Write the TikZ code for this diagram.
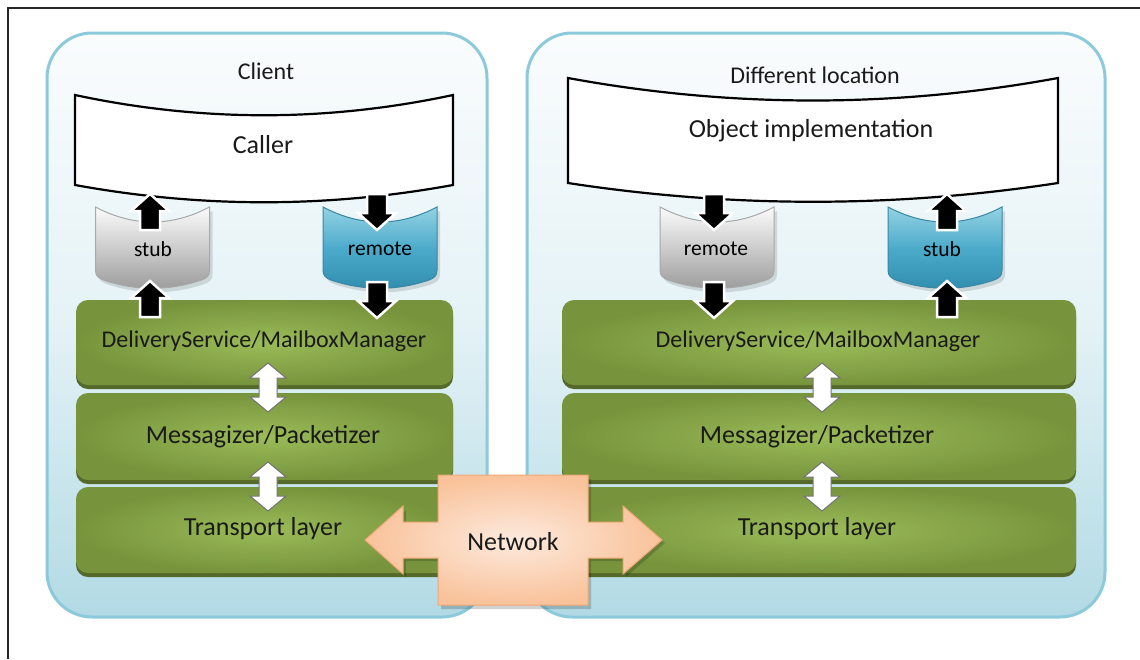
\documentclass[tikz,border=0pt]{standalone}
\usepackage{fontspec}
\setmainfont{Carlito}
\begin{document}
\definecolor{panelTop}{HTML}{FAFCFD}
\definecolor{panelMid}{HTML}{E4F2F6}
\definecolor{panelBot}{HTML}{B2DAE4}
\definecolor{panelLine}{HTML}{8CCADB}
\definecolor{greenIn}{HTML}{9BBB58}
\definecolor{greenOut}{HTML}{77943C}
\definecolor{greenDark}{HTML}{55692A}
\definecolor{blueTop}{HTML}{93D3E3}
\definecolor{blueMid}{HTML}{4BAACA}
\definecolor{blueBot}{HTML}{2F8CAD}
\definecolor{blueLine}{HTML}{3A87A5}
\definecolor{grayTop}{HTML}{FBFBFB}
\definecolor{grayBot}{HTML}{9A9A9A}
\definecolor{grayLine}{HTML}{A8A8A8}
\definecolor{peachIn}{HTML}{FDEADE}
\definecolor{peachOut}{HTML}{F9C29A}
\definecolor{peachLine}{HTML}{EFA877}
\definecolor{txt}{HTML}{1A1A1A}
% a can: concave top, rounded bottom; #1 = centre x, #2 = style
\newcommand\drawcan[2]{%
  \begin{scope}[shift={(#1,207)}]
    \fill[black, opacity=0.12, shift={(3,4)}]
      (-57,0) .. controls (-19,20) and (19,20) .. (57,0) -- (57,63)
      .. controls (57,69) and (54,71) .. (49,73) .. controls (17,84) and (-17,84) .. (-49,73)
      .. controls (-54,71) and (-57,69) .. (-57,63) -- cycle;
    \path[#2]
      (-57,0) .. controls (-19,20) and (19,20) .. (57,0) -- (57,63)
      .. controls (57,69) and (54,71) .. (49,73) .. controls (17,84) and (-17,84) .. (-49,73)
      .. controls (-54,71) and (-57,69) .. (-57,63) -- cycle;
  \end{scope}}
\begin{tikzpicture}[x=1pt,y=-1pt,
  panel/.style={rounded corners=45pt, draw=panelLine, line width=3pt,
    top color=panelTop, bottom color=panelBot, middle color=panelMid},
  banner/.style={draw=black, line width=2.2pt, fill=white},
  graycan/.style={draw=grayLine, line width=1pt, top color=grayTop, bottom color=grayBot},
  bluecan/.style={draw=blueLine, line width=1pt, top color=blueTop, bottom color=blueBot, middle color=blueMid},
  layer/.style={rounded corners=12pt, inner color=greenIn, outer color=greenOut},
  layershadow/.style={rounded corners=12pt, fill=greenDark},
  blockarr/.style={fill=black, draw=white, line width=2.5pt, line join=miter},
  dblarrstyle/.style={fill=white, draw=black!55, line width=1pt},
  lbl/.style={text=txt, inner sep=0pt, font=\fontsize{26}{30}\selectfont},
  lblsmall/.style={text=txt, inner sep=0pt, font=\fontsize{24}{28}\selectfont},
  lblcan/.style={text=black, inner sep=0pt, font=\fontsize{21.5}{25}\selectfont},
  pics/blkup/.style={code={\path[blockarr] (0,0) -- (19,17) -- (10,17) -- (10,36) -- (-10,36) -- (-10,17) -- (-19,17) -- cycle;}},
  pics/blkdown/.style={code={\path[blockarr] (0,0) -- (19,-17) -- (10,-17) -- (10,-36) -- (-10,-36) -- (-10,-17) -- (-19,-17) -- cycle;}},
  pics/dblarr/.style={code={\path[dblarrstyle] (0,0) -- (18,15) -- (9,15) -- (9,34) -- (18,34) -- (0,49) -- (-18,34) -- (-9,34) -- (-9,15) -- (-18,15) -- cycle;}}
]
\useasboundingbox (0,0) rectangle (1140,659);

% frame
\draw[line width=2pt, black!85] (8,659) -- (8,8) -- (1140,8);

% the two hosts
\path[panel] (47,33) rectangle (487,617);
\path[panel] (527,33) rectangle (1105,617);

% ---------- client side ----------
\node[lblsmall] (client) at (266,71) {Client};
\path[banner] (75,95) .. controls (201,122) and (327,122) .. (453,95)
  -- (453,185) .. controls (327,208) and (201,208) .. (75,185) -- cycle;
\node[lbl] (caller) at (263,145) {Caller};

% stub and remote cans
\drawcan{152.5}{graycan}
\node[lblcan] (stubL) at (153,249) {stub};
\drawcan{380}{bluecan}
\node[lblcan] (remoteL) at (380,249) {remote};

% protocol layers
\path[layershadow] (76,304) rectangle (453,389);
\path[layer] (76,300) rectangle (453,385);
\node[lblsmall] (dsL) at (264,341) {DeliveryService/MailboxManager};
\path[layershadow] (76,397) rectangle (453,484);
\path[layer] (76,393) rectangle (453,480);
\node[lbl] (mpL) at (263,437) {Messagizer/Packetizer};
\path[layershadow] (76,491) rectangle (453,577);
\path[layer] (76,487) rectangle (453,573);
\node[lbl] (tlL) at (263,529) {Transport layer};

% ---------- remote side ----------
\node[lblsmall] (diffloc) at (815,75) {Different location};
\path[banner] (568,78) .. controls (731,108) and (895,108) .. (1058,78)
  -- (1058,183) .. controls (895,208) and (731,208) .. (568,183) -- cycle;
\node[lbl] (objimpl) at (811,131) {Object implementation};

\drawcan{717}{graycan}
\node[lblcan] (remoteR) at (716,249) {remote};
\drawcan{945}{bluecan}
\node[lblcan] (stubR) at (942,249) {stub};

\path[layershadow] (562,304) rectangle (1076,389);
\path[layer] (562,300) rectangle (1076,385);
\node[lblsmall] (dsR) at (818,341) {DeliveryService/MailboxManager};
\path[layershadow] (562,397) rectangle (1076,484);
\path[layer] (562,393) rectangle (1076,480);
\node[lbl] (mpR) at (817,437) {Messagizer/Packetizer};
\path[layershadow] (562,491) rectangle (1076,577);
\path[layer] (562,487) rectangle (1076,573);
\node[lbl] (tlR) at (817,529) {Transport layer};

% ---------- calls between caller, cans and layers ----------
\pic at (150,194) {blkup};
\pic at (150,281) {blkup};
\pic at (377,230) {blkdown};
\pic at (377,318) {blkdown};
\pic at (714,230) {blkdown};
\pic at (714,318) {blkdown};
\pic at (947,194) {blkup};
\pic at (947,281) {blkup};

% layer-to-layer exchange
\pic at (268,363) {dblarr};
\pic at (268,462) {dblarr};
\pic at (822,363) {dblarr};
\pic at (822,462) {dblarr};

% ---------- network ----------
\fill[black, opacity=0.18] (368,543) -- (406,510) -- (406,526) -- (441,526) -- (441,479) -- (591,479)
  -- (591,526) -- (626,526) -- (626,510) -- (665,543) -- (626,577) -- (626,561)
  -- (591,561) -- (591,609) -- (441,609) -- (441,561) -- (406,561) -- (406,577) -- cycle;
\path[draw=peachLine, line width=1pt, inner color=peachIn, outer color=peachOut]
  (365,540) -- (403,506) -- (403,522) -- (438,522) -- (438,475) -- (588,475)
  -- (588,522) -- (623,522) -- (623,506) -- (662,540) -- (623,574) -- (623,558)
  -- (588,558) -- (588,605) -- (438,605) -- (438,558) -- (403,558) -- (403,574) -- cycle;
\node[lbl] (network) at (513,542) {Network};
\end{tikzpicture}
\end{document}
